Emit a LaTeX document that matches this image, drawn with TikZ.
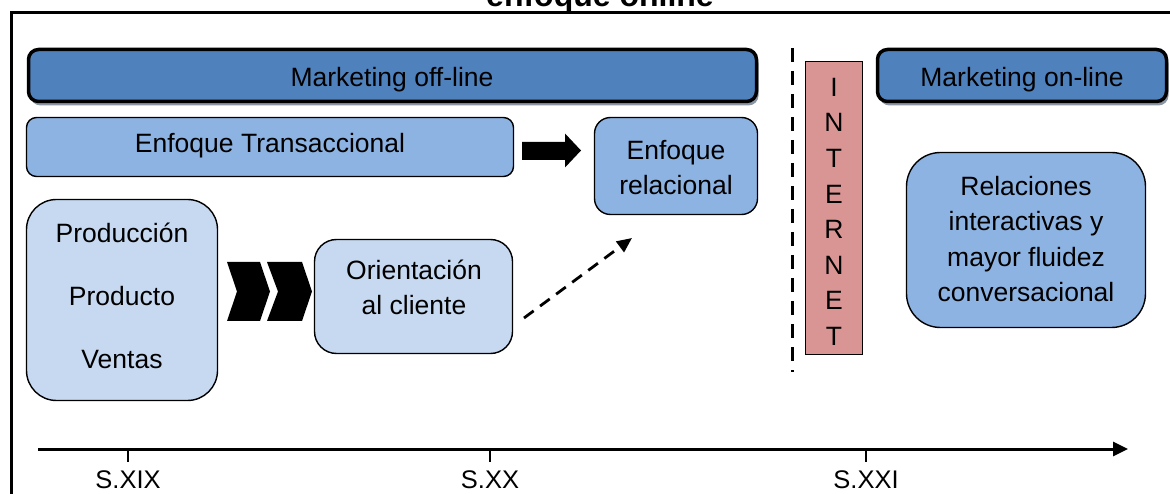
\documentclass[tikz,border=0pt]{standalone}
\usepackage{fontspec}
\setmainfont{Liberation Sans}
\usetikzlibrary{arrows.meta,shadows}
\definecolor{dkblue}{HTML}{4F81BD}
\definecolor{mdblue}{HTML}{8DB3E2}
\definecolor{ltblue}{HTML}{C6D9F1}
\definecolor{netpink}{HTML}{D99594}
\definecolor{shadowgray}{RGB}{140,150,165}
\newcommand{\fs}{\rule{0pt}{20pt}}
\begin{document}
\begin{tikzpicture}[x=1pt,y=-1pt,
  mkt/.style={draw=black, line width=3.5pt, fill=dkblue, rounded corners=10pt, inner sep=0pt,
    drop shadow={shadow xshift=2pt, shadow yshift=-4pt, fill=shadowgray, opacity=1}},
  boxm/.style={draw=black, line width=1.4pt, fill=mdblue, inner sep=0pt},
  boxl/.style={draw=black, line width=1.4pt, fill=ltblue, inner sep=0pt},
  netbox/.style={draw=black, line width=1.2pt, fill=netpink, inner sep=0pt},
  txt/.style={inner sep=0pt, align=center, font=\fontsize{26.5}{35.5}\selectfont},
  lbl/.style={inner sep=0pt, anchor=base, font=\fontsize{25.5}{30}\selectfont},
  chev/.style={fill=black},
]
\useasboundingbox (0,0) rectangle (1170,494);
% frame
\draw[line width=3pt] (11,520) -- (11,13) -- (1200,13);
% title
\node[inner sep=0pt, anchor=base, font=\fontsize{32}{38}\selectfont\bfseries] (title) at (600,7) {enfoque online};

% marketing headers
\node[mkt, minimum width=728pt, minimum height=52pt] (off) at (392.5,75.5) {};
\node[mkt, minimum width=289pt, minimum height=52pt] (on) at (1022,75.5) {};
\node[txt, anchor=base] (offt) at (392,87) {Marketing off-line};
\node[txt, anchor=base] (ont) at (1022,87) {Marketing on-line};

% boxes
\node[boxm, rounded corners=10pt, minimum width=487pt, minimum height=59pt] (trans) at (270,147) {};
\node[txt, anchor=base] (transt) at (270,153) {Enfoque Transaccional};

\node[boxm, rounded corners=16pt, minimum width=163pt, minimum height=97pt] (rel) at (676,166) {};
\node[txt, anchor=north] (relt) at (676,139) {\fs Enfoque\\relacional};

\node[boxl, rounded corners=30pt, minimum width=191pt, minimum height=201pt] (prod) at (122,300) {};
\node[txt, anchor=north, font=\fontsize{26.5}{63}\selectfont] (prodt) at (122,222) {\fs Producción\\Producto\\Ventas};

\node[boxl, rounded corners=22pt, minimum width=198pt, minimum height=114pt] (ori) at (413.5,296.5) {};
\node[txt, anchor=north] (orit) at (414,259) {\fs Orientación\\al cliente};

\node[netbox, minimum width=57pt, minimum height=293pt] (inet) at (834,208) {};
\node[txt, anchor=north, font=\fontsize{26.5}{35.6}\selectfont] (inett) at (834,76) {\fs I\\N\\T\\E\\R\\N\\E\\T};

\node[boxm, rounded corners=34pt, minimum width=239pt, minimum height=175pt] (relac) at (1026,240) {};
\node[txt, anchor=north] (relact) at (1026,175) {\fs Relaciones\\interactivas y\\mayor fluidez\\conversacional};

% block arrow transaccional -> relacional
\fill[black] (522,142) -- (565,142) -- (565,133.5) -- (581,150.5) -- (565,167.5) -- (565,160) -- (522,160) -- cycle;

% chevrons
\fill[chev] (227,262) -- (260,262) -- (270,291.5) -- (260,321) -- (227,321) -- (237,291.5) -- cycle;
\fill[chev] (267,262) -- (302,262) -- (312,291.5) -- (302,321) -- (267,321) -- (278,291.5) -- cycle;

% dashed arrow
\coordinate (d1) at (524,318);
\coordinate (d2) at (632,238);
\draw[line width=2.8pt, dash pattern=on 12pt off 8pt, -{Triangle[length=15pt,width=13pt]}] (d1) -- (d2);

% vertical dashed separator
\coordinate (s1) at (792,48);
\coordinate (s2) at (792,372);
\draw[line width=3pt, dash pattern=on 14pt off 9pt] (s1) -- (s2);

% timeline
\coordinate (t0) at (38,449);
\coordinate (t1) at (1128,449);
\draw[line width=3pt, -{Triangle[length=15pt,width=14pt]}] (t0) -- (t1);
\foreach \x/\n/\s in {128/a/S.XIX, 490/b/S.XX, 866/c/S.XXI}{
  \draw[line width=1.4pt] (\x,449) -- (\x,462);
  \node[lbl] (lab\n) at (\x,488) {\s};
}
\end{tikzpicture}
\end{document}
